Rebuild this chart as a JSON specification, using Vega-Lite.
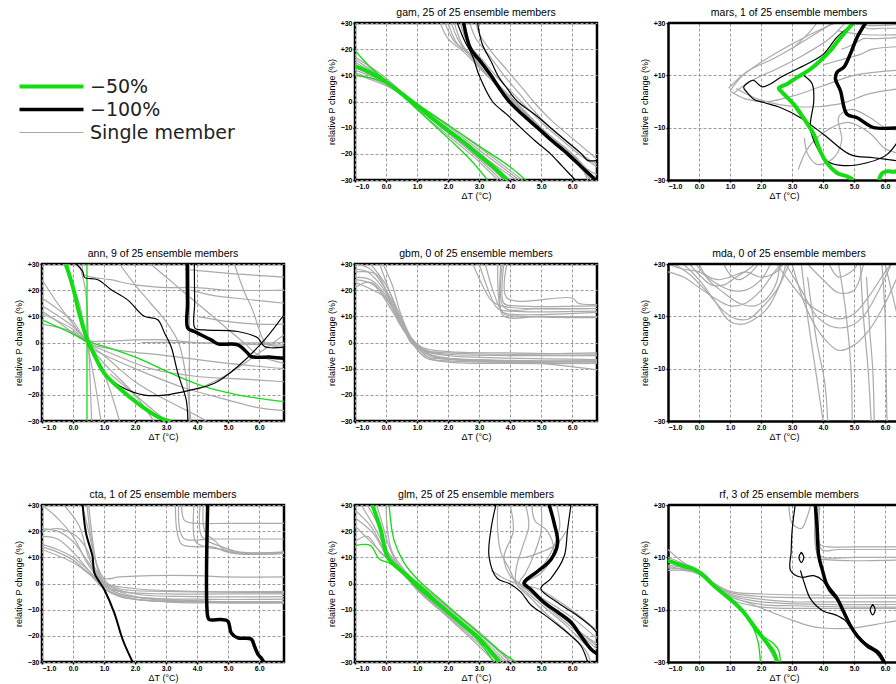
{
"$schema":"https://vega.github.io/schema/vega-lite/v6.json",
"padding":{"left":12,"top":6,"right":0,"bottom":0},
"bounds":"flush",
"columns":3,
"spacing":{"row":84,"column":71},
"config":{
 "view":{"stroke":"#000","strokeWidth":2.5},
 "axis":{"grid":true,"gridColor":"#9a9a9a","gridDash":[3,2],"gridWidth":1,"domain":false,"tickColor":"#000","tickSize":2,"tickWidth":1.5,"labelFont":"Liberation Sans","labelFontSize":7,"labelFontWeight":"bold","labelColor":"#000","labelPadding":1,"labelOverlap":false,"titleFont":"Liberation Sans","titleFontSize":9,"titleFontWeight":"normal","titleColor":"#000","titlePadding":2},
 "axisX":{"labelPadding":0,"titlePadding":2},
 "axisY":{"titlePadding":4},
 "title":{"font":"Liberation Sans","fontSize":10.5,"fontWeight":"normal","color":"#000","offset":1}
},
"concat":[
{"width":242,"height":157,"view":{"stroke":null},"data":{"values":[{}]},"mark":{"type":"point","opacity":0}},
{"width":242,"height":157,"title":"gam, 25 of 25 ensemble members","data":{"name":"gam"},
 "encoding":{"x":{"field":"x","type":"quantitative","scale":{"domain":[-1,6.8],"nice":false,"zero":false},"axis":{"values":[-1,0,1,2,3,4,5,6],"format":".1f","title":"ΔT (°C)","labelOverlap":false}},"y":{"field":"y","type":"quantitative","scale":{"domain":[-30,30],"nice":false,"zero":false},"axis":{"values":[-30,-20,-10,0,10,20,30],"labelExpr":"datum.value>0?'+'+datum.value:datum.label","title":"relative P change (%)","labelOverlap":false}},"detail":{"field":"k"},"order":{"value":null},
 "color":{"field":"s","type":"nominal","scale":{"domain":["G","B","g","Gt","Bt","Bm"],"range":["#11dd11","#000000","#aaaaaa","#11dd11","#000000","#000000"]},"legend":{"orient":"none","legendX":-27,"legendY":54,"title":null,"values":["G","B","g"],"labelExpr":"datum.value=='G'?'−50%':datum.value=='B'?'−100%':'Single member'","symbolType":"M-1,0H11.8","symbolSize":100,"labelFont":"DejaVu Sans","labelFontSize":19,"labelColor":"#222","labelOffset":56,"rowPadding":3}},
 "strokeWidth":{"field":"s","type":"nominal","scale":{"type":"ordinal","domain":["G","B","g","Gt","Bt","Bm"],"range":[4,3.5,1.2,1.3,1.2,2]},"legend":{"orient":"none","legendX":-27,"legendY":54,"title":null,"values":["G","B","g"],"labelExpr":"datum.value=='G'?'−50%':datum.value=='B'?'−100%':'Single member'","symbolType":"M-1,0H11.8","symbolSize":100,"labelFont":"DejaVu Sans","labelFontSize":19,"labelColor":"#222","labelOffset":56,"rowPadding":3}}},
 "layer":[{"transform":[{"filter":"datum.s=='g'"}],"mark":{"type":"line","clip":true,"interpolate":"catmull-rom"}},{"transform":[{"filter":"datum.s!='g'"}],"mark":{"type":"line","clip":true,"interpolate":"catmull-rom"}}]},
{"width":232,"height":157,"title":{"text":"mars, 1 of 25 ensemble members","dx":5},"view":{"stroke":null},
 "layer":[{"data":{"name":"mars"},
 "encoding":{"x":{"field":"x","type":"quantitative","scale":{"domain":[-1,6.48],"nice":false,"zero":false},"axis":{"values":[-1,0,1,2,3,4,5,6],"format":".1f","title":"ΔT (°C)","labelOverlap":false,"domain":true,"domainColor":"#000","domainWidth":2.5}},"y":{"field":"y","type":"quantitative","scale":{"domain":[-30,30],"nice":false,"zero":false},"axis":{"values":[-30,-20,-10,0,10,20,30],"labelExpr":"datum.value>0?'+'+datum.value:datum.label","title":"relative P change (%)","labelOverlap":false,"domain":true,"domainColor":"#000","domainWidth":2.5}},"detail":{"field":"k"},"order":{"value":null},
 "color":{"field":"s","type":"nominal","scale":{"domain":["G","B","g","Gt","Bt","Bm"],"range":["#11dd11","#000000","#aaaaaa","#11dd11","#000000","#000000"]},"legend":{"orient":"none","legendX":-27,"legendY":54,"title":null,"values":["G","B","g"],"labelExpr":"datum.value=='G'?'−50%':datum.value=='B'?'−100%':'Single member'","symbolType":"M-1,0H11.8","symbolSize":100,"labelFont":"DejaVu Sans","labelFontSize":19,"labelColor":"#222","labelOffset":56,"rowPadding":3}},
 "strokeWidth":{"field":"s","type":"nominal","scale":{"type":"ordinal","domain":["G","B","g","Gt","Bt","Bm"],"range":[4,3.5,1.2,1.3,1.2,2]},"legend":{"orient":"none","legendX":-27,"legendY":54,"title":null,"values":["G","B","g"],"labelExpr":"datum.value=='G'?'−50%':datum.value=='B'?'−100%':'Single member'","symbolType":"M-1,0H11.8","symbolSize":100,"labelFont":"DejaVu Sans","labelFontSize":19,"labelColor":"#222","labelOffset":56,"rowPadding":3}}},
 "layer":[{"transform":[{"filter":"datum.s=='g'"}],"mark":{"type":"line","clip":true,"interpolate":"catmull-rom"}},{"transform":[{"filter":"datum.s!='g'"}],"mark":{"type":"line","clip":true,"interpolate":"catmull-rom"}}]},
 {"data":{"values":[{}]},"mark":{"type":"rule","color":"#000","strokeWidth":2.5},"encoding":{"y":{"datum":30}}}]},
{"width":242,"height":157,"title":"ann, 9 of 25 ensemble members","data":{"name":"ann"},
 "encoding":{"x":{"field":"x","type":"quantitative","scale":{"domain":[-1,6.8],"nice":false,"zero":false},"axis":{"values":[-1,0,1,2,3,4,5,6],"format":".1f","title":"ΔT (°C)","labelOverlap":false}},"y":{"field":"y","type":"quantitative","scale":{"domain":[-30,30],"nice":false,"zero":false},"axis":{"values":[-30,-20,-10,0,10,20,30],"labelExpr":"datum.value>0?'+'+datum.value:datum.label","title":"relative P change (%)","labelOverlap":false}},"detail":{"field":"k"},"order":{"value":null},
 "color":{"field":"s","type":"nominal","scale":{"domain":["G","B","g","Gt","Bt","Bm"],"range":["#11dd11","#000000","#aaaaaa","#11dd11","#000000","#000000"]},"legend":{"orient":"none","legendX":-27,"legendY":54,"title":null,"values":["G","B","g"],"labelExpr":"datum.value=='G'?'−50%':datum.value=='B'?'−100%':'Single member'","symbolType":"M-1,0H11.8","symbolSize":100,"labelFont":"DejaVu Sans","labelFontSize":19,"labelColor":"#222","labelOffset":56,"rowPadding":3}},
 "strokeWidth":{"field":"s","type":"nominal","scale":{"type":"ordinal","domain":["G","B","g","Gt","Bt","Bm"],"range":[4,3.5,1.2,1.3,1.2,2]},"legend":{"orient":"none","legendX":-27,"legendY":54,"title":null,"values":["G","B","g"],"labelExpr":"datum.value=='G'?'−50%':datum.value=='B'?'−100%':'Single member'","symbolType":"M-1,0H11.8","symbolSize":100,"labelFont":"DejaVu Sans","labelFontSize":19,"labelColor":"#222","labelOffset":56,"rowPadding":3}}},
 "layer":[{"transform":[{"filter":"datum.s=='g'"}],"mark":{"type":"line","clip":true,"interpolate":"catmull-rom"}},{"transform":[{"filter":"datum.s!='g'"}],"mark":{"type":"line","clip":true,"interpolate":"catmull-rom"}}]},
{"width":242,"height":157,"title":"gbm, 0 of 25 ensemble members","data":{"name":"gbm"},
 "encoding":{"x":{"field":"x","type":"quantitative","scale":{"domain":[-1,6.8],"nice":false,"zero":false},"axis":{"values":[-1,0,1,2,3,4,5,6],"format":".1f","title":"ΔT (°C)","labelOverlap":false}},"y":{"field":"y","type":"quantitative","scale":{"domain":[-30,30],"nice":false,"zero":false},"axis":{"values":[-30,-20,-10,0,10,20,30],"labelExpr":"datum.value>0?'+'+datum.value:datum.label","title":"relative P change (%)","labelOverlap":false}},"detail":{"field":"k"},"order":{"value":null},
 "color":{"field":"s","type":"nominal","scale":{"domain":["G","B","g","Gt","Bt","Bm"],"range":["#11dd11","#000000","#aaaaaa","#11dd11","#000000","#000000"]},"legend":{"orient":"none","legendX":-27,"legendY":54,"title":null,"values":["G","B","g"],"labelExpr":"datum.value=='G'?'−50%':datum.value=='B'?'−100%':'Single member'","symbolType":"M-1,0H11.8","symbolSize":100,"labelFont":"DejaVu Sans","labelFontSize":19,"labelColor":"#222","labelOffset":56,"rowPadding":3}},
 "strokeWidth":{"field":"s","type":"nominal","scale":{"type":"ordinal","domain":["G","B","g","Gt","Bt","Bm"],"range":[4,3.5,1.2,1.3,1.2,2]},"legend":{"orient":"none","legendX":-27,"legendY":54,"title":null,"values":["G","B","g"],"labelExpr":"datum.value=='G'?'−50%':datum.value=='B'?'−100%':'Single member'","symbolType":"M-1,0H11.8","symbolSize":100,"labelFont":"DejaVu Sans","labelFontSize":19,"labelColor":"#222","labelOffset":56,"rowPadding":3}}},
 "layer":[{"transform":[{"filter":"datum.s=='g'"}],"mark":{"type":"line","clip":true,"interpolate":"catmull-rom"}},{"transform":[{"filter":"datum.s!='g'"}],"mark":{"type":"line","clip":true,"interpolate":"catmull-rom"}}]},
{"width":232,"height":157,"title":{"text":"mda, 0 of 25 ensemble members","dx":5},"view":{"stroke":null},
 "layer":[{"data":{"name":"mda"},
 "encoding":{"x":{"field":"x","type":"quantitative","scale":{"domain":[-1,6.48],"nice":false,"zero":false},"axis":{"values":[-1,0,1,2,3,4,5,6],"format":".1f","title":"ΔT (°C)","labelOverlap":false,"domain":true,"domainColor":"#000","domainWidth":2.5}},"y":{"field":"y","type":"quantitative","scale":{"domain":[-30,30],"nice":false,"zero":false},"axis":{"values":[-30,-20,-10,0,10,20,30],"labelExpr":"datum.value>0?'+'+datum.value:datum.label","title":"relative P change (%)","labelOverlap":false,"domain":true,"domainColor":"#000","domainWidth":2.5}},"detail":{"field":"k"},"order":{"value":null},
 "color":{"field":"s","type":"nominal","scale":{"domain":["G","B","g","Gt","Bt","Bm"],"range":["#11dd11","#000000","#aaaaaa","#11dd11","#000000","#000000"]},"legend":{"orient":"none","legendX":-27,"legendY":54,"title":null,"values":["G","B","g"],"labelExpr":"datum.value=='G'?'−50%':datum.value=='B'?'−100%':'Single member'","symbolType":"M-1,0H11.8","symbolSize":100,"labelFont":"DejaVu Sans","labelFontSize":19,"labelColor":"#222","labelOffset":56,"rowPadding":3}},
 "strokeWidth":{"field":"s","type":"nominal","scale":{"type":"ordinal","domain":["G","B","g","Gt","Bt","Bm"],"range":[4,3.5,1.2,1.3,1.2,2]},"legend":{"orient":"none","legendX":-27,"legendY":54,"title":null,"values":["G","B","g"],"labelExpr":"datum.value=='G'?'−50%':datum.value=='B'?'−100%':'Single member'","symbolType":"M-1,0H11.8","symbolSize":100,"labelFont":"DejaVu Sans","labelFontSize":19,"labelColor":"#222","labelOffset":56,"rowPadding":3}}},
 "layer":[{"transform":[{"filter":"datum.s=='g'"}],"mark":{"type":"line","clip":true,"interpolate":"catmull-rom"}},{"transform":[{"filter":"datum.s!='g'"}],"mark":{"type":"line","clip":true,"interpolate":"catmull-rom"}}]},
 {"data":{"values":[{}]},"mark":{"type":"rule","color":"#000","strokeWidth":2.5},"encoding":{"y":{"datum":30}}}]},
{"width":242,"height":157,"title":"cta, 1 of 25 ensemble members","data":{"name":"cta"},
 "encoding":{"x":{"field":"x","type":"quantitative","scale":{"domain":[-1,6.8],"nice":false,"zero":false},"axis":{"values":[-1,0,1,2,3,4,5,6],"format":".1f","title":"ΔT (°C)","labelOverlap":false}},"y":{"field":"y","type":"quantitative","scale":{"domain":[-30,30],"nice":false,"zero":false},"axis":{"values":[-30,-20,-10,0,10,20,30],"labelExpr":"datum.value>0?'+'+datum.value:datum.label","title":"relative P change (%)","labelOverlap":false}},"detail":{"field":"k"},"order":{"value":null},
 "color":{"field":"s","type":"nominal","scale":{"domain":["G","B","g","Gt","Bt","Bm"],"range":["#11dd11","#000000","#aaaaaa","#11dd11","#000000","#000000"]},"legend":{"orient":"none","legendX":-27,"legendY":54,"title":null,"values":["G","B","g"],"labelExpr":"datum.value=='G'?'−50%':datum.value=='B'?'−100%':'Single member'","symbolType":"M-1,0H11.8","symbolSize":100,"labelFont":"DejaVu Sans","labelFontSize":19,"labelColor":"#222","labelOffset":56,"rowPadding":3}},
 "strokeWidth":{"field":"s","type":"nominal","scale":{"type":"ordinal","domain":["G","B","g","Gt","Bt","Bm"],"range":[4,3.5,1.2,1.3,1.2,2]},"legend":{"orient":"none","legendX":-27,"legendY":54,"title":null,"values":["G","B","g"],"labelExpr":"datum.value=='G'?'−50%':datum.value=='B'?'−100%':'Single member'","symbolType":"M-1,0H11.8","symbolSize":100,"labelFont":"DejaVu Sans","labelFontSize":19,"labelColor":"#222","labelOffset":56,"rowPadding":3}}},
 "layer":[{"transform":[{"filter":"datum.s=='g'"}],"mark":{"type":"line","clip":true,"interpolate":"catmull-rom"}},{"transform":[{"filter":"datum.s!='g'"}],"mark":{"type":"line","clip":true,"interpolate":"catmull-rom"}}]},
{"width":242,"height":157,"title":"glm, 25 of 25 ensemble members","data":{"name":"glm"},
 "encoding":{"x":{"field":"x","type":"quantitative","scale":{"domain":[-1,6.8],"nice":false,"zero":false},"axis":{"values":[-1,0,1,2,3,4,5,6],"format":".1f","title":"ΔT (°C)","labelOverlap":false}},"y":{"field":"y","type":"quantitative","scale":{"domain":[-30,30],"nice":false,"zero":false},"axis":{"values":[-30,-20,-10,0,10,20,30],"labelExpr":"datum.value>0?'+'+datum.value:datum.label","title":"relative P change (%)","labelOverlap":false}},"detail":{"field":"k"},"order":{"value":null},
 "color":{"field":"s","type":"nominal","scale":{"domain":["G","B","g","Gt","Bt","Bm"],"range":["#11dd11","#000000","#aaaaaa","#11dd11","#000000","#000000"]},"legend":{"orient":"none","legendX":-27,"legendY":54,"title":null,"values":["G","B","g"],"labelExpr":"datum.value=='G'?'−50%':datum.value=='B'?'−100%':'Single member'","symbolType":"M-1,0H11.8","symbolSize":100,"labelFont":"DejaVu Sans","labelFontSize":19,"labelColor":"#222","labelOffset":56,"rowPadding":3}},
 "strokeWidth":{"field":"s","type":"nominal","scale":{"type":"ordinal","domain":["G","B","g","Gt","Bt","Bm"],"range":[4,3.5,1.2,1.3,1.2,2]},"legend":{"orient":"none","legendX":-27,"legendY":54,"title":null,"values":["G","B","g"],"labelExpr":"datum.value=='G'?'−50%':datum.value=='B'?'−100%':'Single member'","symbolType":"M-1,0H11.8","symbolSize":100,"labelFont":"DejaVu Sans","labelFontSize":19,"labelColor":"#222","labelOffset":56,"rowPadding":3}}},
 "layer":[{"transform":[{"filter":"datum.s=='g'"}],"mark":{"type":"line","clip":true,"interpolate":"catmull-rom"}},{"transform":[{"filter":"datum.s!='g'"}],"mark":{"type":"line","clip":true,"interpolate":"catmull-rom"}}]},
{"width":232,"height":157,"title":{"text":"rf, 3 of 25 ensemble members","dx":5},"view":{"stroke":null},
 "layer":[{"data":{"name":"rf"},
 "encoding":{"x":{"field":"x","type":"quantitative","scale":{"domain":[-1,6.48],"nice":false,"zero":false},"axis":{"values":[-1,0,1,2,3,4,5,6],"format":".1f","title":"ΔT (°C)","labelOverlap":false,"domain":true,"domainColor":"#000","domainWidth":2.5}},"y":{"field":"y","type":"quantitative","scale":{"domain":[-30,30],"nice":false,"zero":false},"axis":{"values":[-30,-20,-10,0,10,20,30],"labelExpr":"datum.value>0?'+'+datum.value:datum.label","title":"relative P change (%)","labelOverlap":false,"domain":true,"domainColor":"#000","domainWidth":2.5}},"detail":{"field":"k"},"order":{"value":null},
 "color":{"field":"s","type":"nominal","scale":{"domain":["G","B","g","Gt","Bt","Bm"],"range":["#11dd11","#000000","#aaaaaa","#11dd11","#000000","#000000"]},"legend":{"orient":"none","legendX":-27,"legendY":54,"title":null,"values":["G","B","g"],"labelExpr":"datum.value=='G'?'−50%':datum.value=='B'?'−100%':'Single member'","symbolType":"M-1,0H11.8","symbolSize":100,"labelFont":"DejaVu Sans","labelFontSize":19,"labelColor":"#222","labelOffset":56,"rowPadding":3}},
 "strokeWidth":{"field":"s","type":"nominal","scale":{"type":"ordinal","domain":["G","B","g","Gt","Bt","Bm"],"range":[4,3.5,1.2,1.3,1.2,2]},"legend":{"orient":"none","legendX":-27,"legendY":54,"title":null,"values":["G","B","g"],"labelExpr":"datum.value=='G'?'−50%':datum.value=='B'?'−100%':'Single member'","symbolType":"M-1,0H11.8","symbolSize":100,"labelFont":"DejaVu Sans","labelFontSize":19,"labelColor":"#222","labelOffset":56,"rowPadding":3}}},
 "layer":[{"transform":[{"filter":"datum.s=='g'"}],"mark":{"type":"line","clip":true,"interpolate":"catmull-rom"}},{"transform":[{"filter":"datum.s!='g'"}],"mark":{"type":"line","clip":true,"interpolate":"catmull-rom"}}]},
 {"data":{"values":[{}]},"mark":{"type":"rule","color":"#000","strokeWidth":2.5},"encoding":{"y":{"datum":30}}}]}
],
"datasets":{
"gam":[
{"s":"g","k":"g1","x":-1,"y":15},{"s":"g","k":"g1","x":0,"y":8},{"s":"g","k":"g1","x":1,"y":-2},{"s":"g","k":"g1","x":2,"y":-12},{"s":"g","k":"g1","x":3,"y":-21},{"s":"g","k":"g1","x":3.8,"y":-30},
{"s":"g","k":"g2","x":-1,"y":14},{"s":"g","k":"g2","x":0,"y":7.5},{"s":"g","k":"g2","x":1,"y":-1},{"s":"g","k":"g2","x":2,"y":-10.5},{"s":"g","k":"g2","x":3,"y":-19.5},{"s":"g","k":"g2","x":4,"y":-30},
{"s":"g","k":"g3","x":-1,"y":12},{"s":"g","k":"g3","x":0,"y":7},{"s":"g","k":"g3","x":1,"y":-1.5},{"s":"g","k":"g3","x":2,"y":-11},{"s":"g","k":"g3","x":3,"y":-20},{"s":"g","k":"g3","x":4.2,"y":-30},
{"s":"g","k":"g4","x":-1,"y":16},{"s":"g","k":"g4","x":0,"y":8},{"s":"g","k":"g4","x":1,"y":-3},{"s":"g","k":"g4","x":2,"y":-13},{"s":"g","k":"g4","x":3,"y":-23},{"s":"g","k":"g4","x":3.6,"y":-30},
{"s":"g","k":"g5","x":-1,"y":11},{"s":"g","k":"g5","x":0,"y":6.5},{"s":"g","k":"g5","x":1,"y":-1},{"s":"g","k":"g5","x":2,"y":-9.5},{"s":"g","k":"g5","x":3,"y":-18.5},{"s":"g","k":"g5","x":4.3,"y":-30},
{"s":"g","k":"g6","x":-1,"y":13},{"s":"g","k":"g6","x":0,"y":7},{"s":"g","k":"g6","x":1,"y":-2.5},{"s":"g","k":"g6","x":2,"y":-12},{"s":"g","k":"g6","x":3,"y":-22},{"s":"g","k":"g6","x":3.7,"y":-30},
{"s":"g","k":"g7","x":-1,"y":17},{"s":"g","k":"g7","x":0,"y":9},{"s":"g","k":"g7","x":1,"y":-2},{"s":"g","k":"g7","x":2,"y":-11.5},{"s":"g","k":"g7","x":3,"y":-21.5},{"s":"g","k":"g7","x":3.9,"y":-30},
{"s":"g","k":"g8","x":-1,"y":10.5},{"s":"g","k":"g8","x":0,"y":6},{"s":"g","k":"g8","x":1,"y":-1},{"s":"g","k":"g8","x":2,"y":-9},{"s":"g","k":"g8","x":3,"y":-17.5},{"s":"g","k":"g8","x":4.4,"y":-30},
{"s":"g","k":"h1","x":1.75,"y":30},{"s":"g","k":"h1","x":2,"y":24},{"s":"g","k":"h1","x":2.5,"y":19},{"s":"g","k":"h1","x":3,"y":13},{"s":"g","k":"h1","x":3.5,"y":7},{"s":"g","k":"h1","x":4,"y":1},{"s":"g","k":"h1","x":4.5,"y":-5},{"s":"g","k":"h1","x":5,"y":-11},{"s":"g","k":"h1","x":5.5,"y":-16},{"s":"g","k":"h1","x":6,"y":-21},{"s":"g","k":"h1","x":6.5,"y":-27},{"s":"g","k":"h1","x":6.7,"y":-30},
{"s":"g","k":"h2","x":2,"y":30},{"s":"g","k":"h2","x":2.3,"y":22},{"s":"g","k":"h2","x":2.8,"y":17},{"s":"g","k":"h2","x":3.2,"y":11},{"s":"g","k":"h2","x":3.7,"y":5},{"s":"g","k":"h2","x":4.2,"y":-1},{"s":"g","k":"h2","x":4.7,"y":-7},{"s":"g","k":"h2","x":5.2,"y":-13},{"s":"g","k":"h2","x":5.8,"y":-18},{"s":"g","k":"h2","x":6.3,"y":-24},{"s":"g","k":"h2","x":6.6,"y":-30},
{"s":"g","k":"h3","x":2.2,"y":30},{"s":"g","k":"h3","x":2.5,"y":21},{"s":"g","k":"h3","x":3,"y":15},{"s":"g","k":"h3","x":3.5,"y":8},{"s":"g","k":"h3","x":4,"y":2},{"s":"g","k":"h3","x":4.5,"y":-4},{"s":"g","k":"h3","x":5,"y":-10},{"s":"g","k":"h3","x":5.6,"y":-16},{"s":"g","k":"h3","x":6.1,"y":-21},{"s":"g","k":"h3","x":6.5,"y":-26},{"s":"g","k":"h3","x":6.8,"y":-28},
{"s":"g","k":"h4","x":2.4,"y":30},{"s":"g","k":"h4","x":2.6,"y":23},{"s":"g","k":"h4","x":3.1,"y":16},{"s":"g","k":"h4","x":3.6,"y":9},{"s":"g","k":"h4","x":4.1,"y":3},{"s":"g","k":"h4","x":4.6,"y":-3},{"s":"g","k":"h4","x":5.1,"y":-9},{"s":"g","k":"h4","x":5.7,"y":-15},{"s":"g","k":"h4","x":6.2,"y":-20},{"s":"g","k":"h4","x":6.8,"y":-25},
{"s":"g","k":"h5","x":2.7,"y":30},{"s":"g","k":"h5","x":2.9,"y":24},{"s":"g","k":"h5","x":3.3,"y":18},{"s":"g","k":"h5","x":3.8,"y":10},{"s":"g","k":"h5","x":4.3,"y":3},{"s":"g","k":"h5","x":4.8,"y":-4},{"s":"g","k":"h5","x":5.3,"y":-10},{"s":"g","k":"h5","x":5.9,"y":-16},{"s":"g","k":"h5","x":6.4,"y":-21},{"s":"g","k":"h5","x":6.8,"y":-24},
{"s":"g","k":"h6","x":2.9,"y":30},{"s":"g","k":"h6","x":3,"y":26},{"s":"g","k":"h6","x":3.4,"y":19},{"s":"g","k":"h6","x":3.9,"y":12},{"s":"g","k":"h6","x":4.4,"y":5},{"s":"g","k":"h6","x":4.9,"y":-2},{"s":"g","k":"h6","x":5.4,"y":-8},{"s":"g","k":"h6","x":6,"y":-14},{"s":"g","k":"h6","x":6.5,"y":-19},{"s":"g","k":"h6","x":6.8,"y":-22},
{"s":"g","k":"h7","x":2.1,"y":30},{"s":"g","k":"h7","x":2.4,"y":22},{"s":"g","k":"h7","x":2.9,"y":15},{"s":"g","k":"h7","x":3.3,"y":10},{"s":"g","k":"h7","x":3.8,"y":3},{"s":"g","k":"h7","x":4.4,"y":-3},{"s":"g","k":"h7","x":4.9,"y":-9},{"s":"g","k":"h7","x":5.4,"y":-15},{"s":"g","k":"h7","x":6,"y":-21},{"s":"g","k":"h7","x":6.4,"y":-27},{"s":"g","k":"h7","x":6.6,"y":-30},
{"s":"g","k":"h8","x":1.9,"y":30},{"s":"g","k":"h8","x":2.2,"y":23},{"s":"g","k":"h8","x":2.7,"y":18},{"s":"g","k":"h8","x":3.1,"y":12},{"s":"g","k":"h8","x":3.6,"y":6},{"s":"g","k":"h8","x":4.1,"y":0},{"s":"g","k":"h8","x":4.6,"y":-6},{"s":"g","k":"h8","x":5.1,"y":-12},{"s":"g","k":"h8","x":5.7,"y":-17},{"s":"g","k":"h8","x":6.2,"y":-23},{"s":"g","k":"h8","x":6.5,"y":-30},
{"s":"Gt","k":"t1","x":-1,"y":19.5},{"s":"Gt","k":"t1","x":-0.5,"y":13},{"s":"Gt","k":"t1","x":0,"y":8},{"s":"Gt","k":"t1","x":0.5,"y":2.5},{"s":"Gt","k":"t1","x":1,"y":-3},{"s":"Gt","k":"t1","x":2,"y":-14},{"s":"Gt","k":"t1","x":2.7,"y":-22},{"s":"Gt","k":"t1","x":3.27,"y":-30},
{"s":"Gt","k":"t2","x":-1,"y":10},{"s":"Gt","k":"t2","x":-0.5,"y":9},{"s":"Gt","k":"t2","x":0,"y":7},{"s":"Gt","k":"t2","x":0.5,"y":3.5},{"s":"Gt","k":"t2","x":1,"y":-1},{"s":"Gt","k":"t2","x":2,"y":-9},{"s":"Gt","k":"t2","x":3,"y":-17},{"s":"Gt","k":"t2","x":4,"y":-25},{"s":"Gt","k":"t2","x":4.5,"y":-30},
{"s":"Bt","k":"b1","x":2.3,"y":30},{"s":"Bt","k":"b1","x":2.5,"y":24},{"s":"Bt","k":"b1","x":2.8,"y":17},{"s":"Bt","k":"b1","x":3,"y":10},{"s":"Bt","k":"b1","x":3.43,"y":0},{"s":"Bt","k":"b1","x":3.9,"y":-5},{"s":"Bt","k":"b1","x":4.34,"y":-10},{"s":"Bt","k":"b1","x":4.8,"y":-15},{"s":"Bt","k":"b1","x":5.3,"y":-20},{"s":"Bt","k":"b1","x":5.7,"y":-25},{"s":"Bt","k":"b1","x":6.1,"y":-30},
{"s":"Bt","k":"b2","x":2.95,"y":30},{"s":"Bt","k":"b2","x":3.1,"y":22},{"s":"Bt","k":"b2","x":3.4,"y":15},{"s":"Bt","k":"b2","x":3.6,"y":10},{"s":"Bt","k":"b2","x":3.9,"y":5},{"s":"Bt","k":"b2","x":4.24,"y":0},{"s":"Bt","k":"b2","x":4.8,"y":-5},{"s":"Bt","k":"b2","x":5.3,"y":-10},{"s":"Bt","k":"b2","x":5.8,"y":-15},{"s":"Bt","k":"b2","x":6.3,"y":-20},{"s":"Bt","k":"b2","x":6.5,"y":-22.5},{"s":"Bt","k":"b2","x":6.8,"y":-22.5},
{"s":"G","k":"G","x":-1,"y":13.5},{"s":"G","k":"G","x":-0.5,"y":11},{"s":"G","k":"G","x":0,"y":7.5},{"s":"G","k":"G","x":0.5,"y":3},{"s":"G","k":"G","x":1,"y":-1.5},{"s":"G","k":"G","x":1.5,"y":-6.5},{"s":"G","k":"G","x":2,"y":-11},{"s":"G","k":"G","x":2.5,"y":-15.5},{"s":"G","k":"G","x":3,"y":-20.5},{"s":"G","k":"G","x":3.5,"y":-25.5},{"s":"G","k":"G","x":3.9,"y":-30},
{"s":"B","k":"B","x":2.5,"y":30},{"s":"B","k":"B","x":2.73,"y":20},{"s":"B","k":"B","x":3,"y":16},{"s":"B","k":"B","x":3.38,"y":10},{"s":"B","k":"B","x":3.6,"y":6},{"s":"B","k":"B","x":3.97,"y":0},{"s":"B","k":"B","x":4.4,"y":-5},{"s":"B","k":"B","x":4.88,"y":-10},{"s":"B","k":"B","x":5.35,"y":-15},{"s":"B","k":"B","x":5.85,"y":-20},{"s":"B","k":"B","x":6.3,"y":-25},{"s":"B","k":"B","x":6.76,"y":-30}
],
"mars":[
{"s":"g","k":"m1","x":0.95,"y":5},{"s":"g","k":"m1","x":1.3,"y":9},{"s":"g","k":"m1","x":2,"y":15},{"s":"g","k":"m1","x":3,"y":22},{"s":"g","k":"m1","x":4,"y":28},{"s":"g","k":"m1","x":4.4,"y":30},
{"s":"g","k":"m2","x":1,"y":4},{"s":"g","k":"m2","x":1.5,"y":11},{"s":"g","k":"m2","x":2.5,"y":17},{"s":"g","k":"m2","x":3.5,"y":24},{"s":"g","k":"m2","x":4.3,"y":30},
{"s":"g","k":"m3","x":1.1,"y":3},{"s":"g","k":"m3","x":1.7,"y":8},{"s":"g","k":"m3","x":2.6,"y":13},{"s":"g","k":"m3","x":3.4,"y":18},{"s":"g","k":"m3","x":4.2,"y":24},{"s":"g","k":"m3","x":4.7,"y":30},
{"s":"g","k":"m4","x":1,"y":4},{"s":"g","k":"m4","x":1.5,"y":1},{"s":"g","k":"m4","x":2.2,"y":0},{"s":"g","k":"m4","x":3,"y":2},{"s":"g","k":"m4","x":4,"y":6},{"s":"g","k":"m4","x":5,"y":10},{"s":"g","k":"m4","x":6.5,"y":12},
{"s":"g","k":"m5","x":1.2,"y":5},{"s":"g","k":"m5","x":2,"y":0.5},{"s":"g","k":"m5","x":3.2,"y":-2},{"s":"g","k":"m5","x":4.5,"y":-1},{"s":"g","k":"m5","x":5.5,"y":3},{"s":"g","k":"m5","x":6.5,"y":5},
{"s":"g","k":"m6","x":3.4,"y":-14},{"s":"g","k":"m6","x":3.5,"y":-20},{"s":"g","k":"m6","x":3.8,"y":-24},{"s":"g","k":"m6","x":4.3,"y":-22},{"s":"g","k":"m6","x":4.6,"y":-15},{"s":"g","k":"m6","x":4.5,"y":-6},{"s":"g","k":"m6","x":4.9,"y":-3},{"s":"g","k":"m6","x":5.5,"y":-6},{"s":"g","k":"m6","x":6,"y":-10},{"s":"g","k":"m6","x":6.5,"y":-11},
{"s":"g","k":"m7","x":4.5,"y":27},{"s":"g","k":"m7","x":5,"y":26},{"s":"g","k":"m7","x":5.4,"y":25.5},{"s":"g","k":"m7","x":6.5,"y":25.5},
{"s":"g","k":"m8","x":4.6,"y":20},{"s":"g","k":"m8","x":5,"y":22},{"s":"g","k":"m8","x":5.3,"y":24},{"s":"g","k":"m8","x":5.6,"y":24},{"s":"g","k":"m8","x":6.5,"y":24.5},
{"s":"g","k":"m9","x":5.2,"y":30},{"s":"g","k":"m9","x":5.4,"y":28},{"s":"g","k":"m9","x":5.9,"y":28},{"s":"g","k":"m9","x":6.5,"y":28},
{"s":"g","k":"m10","x":4,"y":14},{"s":"g","k":"m10","x":4.6,"y":16},{"s":"g","k":"m10","x":5.2,"y":18},{"s":"g","k":"m10","x":5.6,"y":20},{"s":"g","k":"m10","x":6.5,"y":21},
{"s":"g","k":"m11","x":3,"y":20},{"s":"g","k":"m11","x":3.6,"y":27},{"s":"g","k":"m11","x":3.8,"y":30},
{"s":"g","k":"m12","x":3.2,"y":-26},{"s":"g","k":"m12","x":3.5,"y":-18},{"s":"g","k":"m12","x":4,"y":-12},{"s":"g","k":"m12","x":4.8,"y":-8},{"s":"g","k":"m12","x":5.5,"y":-12},{"s":"g","k":"m12","x":6,"y":-18},{"s":"g","k":"m12","x":6.5,"y":-20},
{"s":"g","k":"m13","x":4.8,"y":30},{"s":"g","k":"m13","x":5.5,"y":29},{"s":"g","k":"m13","x":6.5,"y":29.5},
{"s":"Bt","k":"b1","x":4.88,"y":29},{"s":"Bt","k":"b1","x":4.45,"y":24.6},{"s":"Bt","k":"b1","x":4.02,"y":18.2},{"s":"Bt","k":"b1","x":3.59,"y":15},{"s":"Bt","k":"b1","x":2.95,"y":11.2},{"s":"Bt","k":"b1","x":2.62,"y":9.2},{"s":"Bt","k":"b1","x":2.3,"y":6.7},{"s":"Bt","k":"b1","x":2.03,"y":5.6},{"s":"Bt","k":"b1","x":1.76,"y":8.1},{"s":"Bt","k":"b1","x":1.6,"y":7.4},{"s":"Bt","k":"b1","x":1.44,"y":5.4},{"s":"Bt","k":"b1","x":1.55,"y":3.5},{"s":"Bt","k":"b1","x":1.76,"y":0.9},{"s":"Bt","k":"b1","x":2.09,"y":-0.4},{"s":"Bt","k":"b1","x":2.62,"y":-2.3},{"s":"Bt","k":"b1","x":3.27,"y":-6.2},{"s":"Bt","k":"b1","x":4.02,"y":-12.6},{"s":"Bt","k":"b1","x":4.88,"y":-20.3},{"s":"Bt","k":"b1","x":5.63,"y":-21.5},{"s":"Bt","k":"b1","x":6.5,"y":-22.8},
{"s":"Bt","k":"b2","x":3.38,"y":9.9},{"s":"Bt","k":"b2","x":3.65,"y":6.7},{"s":"Bt","k":"b2","x":3.7,"y":0.3},{"s":"Bt","k":"b2","x":3.59,"y":-10},{"s":"Bt","k":"b2","x":3.81,"y":-17.7},{"s":"Bt","k":"b2","x":4.13,"y":-22.8},{"s":"Bt","k":"b2","x":4.67,"y":-24.5},{"s":"Bt","k":"b2","x":5.42,"y":-23.4},{"s":"Bt","k":"b2","x":6.06,"y":-20.3},{"s":"Bt","k":"b2","x":6.5,"y":-13.5},
{"s":"G","k":"G","x":4.97,"y":30},{"s":"G","k":"G","x":4.67,"y":25.9},{"s":"G","k":"G","x":4.45,"y":22.7},{"s":"G","k":"G","x":4.24,"y":19.5},{"s":"G","k":"G","x":3.91,"y":15.6},{"s":"G","k":"G","x":3.59,"y":12.4},{"s":"G","k":"G","x":3.16,"y":9.2},{"s":"G","k":"G","x":2.84,"y":6.7},{"s":"G","k":"G","x":2.57,"y":5.1},{"s":"G","k":"G","x":2.68,"y":3.5},{"s":"G","k":"G","x":3.05,"y":-1},{"s":"G","k":"G","x":3.43,"y":-7.4},{"s":"G","k":"G","x":3.7,"y":-12.6},{"s":"G","k":"G","x":3.91,"y":-19},{"s":"G","k":"G","x":4.08,"y":-22.8},{"s":"G","k":"G","x":4.45,"y":-27.3},{"s":"G","k":"G","x":4.77,"y":-28.6},{"s":"G","k":"G","x":4.99,"y":-30},
{"s":"G","k":"G2","x":5.8,"y":-30},{"s":"G","k":"G2","x":5.9,"y":-27.5},{"s":"G","k":"G2","x":6.05,"y":-26.7},{"s":"G","k":"G2","x":6.35,"y":-26.7},{"s":"G","k":"G2","x":6.5,"y":-24},
{"s":"B","k":"B","x":5.37,"y":30},{"s":"B","k":"B","x":5.1,"y":24.6},{"s":"B","k":"B","x":4.88,"y":18.2},{"s":"B","k":"B","x":4.67,"y":13.1},{"s":"B","k":"B","x":4.45,"y":11.2},{"s":"B","k":"B","x":4.4,"y":8.6},{"s":"B","k":"B","x":4.56,"y":4.1},{"s":"B","k":"B","x":4.77,"y":-4.9},{"s":"B","k":"B","x":5.1,"y":-6.2},{"s":"B","k":"B","x":5.42,"y":-8.7},{"s":"B","k":"B","x":5.63,"y":-10},{"s":"B","k":"B","x":6.5,"y":-10}
],
"ann":[
{"s":"g","k":"a1","x":-1,"y":24},{"s":"g","k":"a1","x":-0.5,"y":15},{"s":"g","k":"a1","x":0,"y":7},{"s":"g","k":"a1","x":0.45,"y":0},{"s":"g","k":"a1","x":1,"y":-8},{"s":"g","k":"a1","x":2,"y":-20},{"s":"g","k":"a1","x":2.6,"y":-30},
{"s":"g","k":"a2","x":-1,"y":12},{"s":"g","k":"a2","x":-0.5,"y":8},{"s":"g","k":"a2","x":0.45,"y":0},{"s":"g","k":"a2","x":1.2,"y":-4},{"s":"g","k":"a2","x":2.5,"y":-10},{"s":"g","k":"a2","x":4,"y":-13},{"s":"g","k":"a2","x":5.5,"y":-14},{"s":"g","k":"a2","x":6.8,"y":-15},
{"s":"g","k":"a3","x":-1,"y":11},{"s":"g","k":"a3","x":0,"y":5},{"s":"g","k":"a3","x":0.45,"y":0},{"s":"g","k":"a3","x":1.5,"y":-3},{"s":"g","k":"a3","x":3,"y":-5},{"s":"g","k":"a3","x":5,"y":-8},{"s":"g","k":"a3","x":6.8,"y":-10},
{"s":"g","k":"a4","x":-1,"y":17},{"s":"g","k":"a4","x":0,"y":8},{"s":"g","k":"a4","x":0.45,"y":1},{"s":"g","k":"a4","x":1,"y":0.5},{"s":"g","k":"a4","x":2,"y":1},{"s":"g","k":"a4","x":3,"y":1},{"s":"g","k":"a4","x":4,"y":0},{"s":"g","k":"a4","x":6.8,"y":0},
{"s":"g","k":"a5","x":-1,"y":14},{"s":"g","k":"a5","x":0,"y":6},{"s":"g","k":"a5","x":0.45,"y":0},{"s":"g","k":"a5","x":1,"y":-12},{"s":"g","k":"a5","x":1.5,"y":-30},
{"s":"g","k":"a6","x":-0.3,"y":30},{"s":"g","k":"a6","x":0.2,"y":15},{"s":"g","k":"a6","x":0.45,"y":0},{"s":"g","k":"a6","x":0.7,"y":-15},{"s":"g","k":"a6","x":0.9,"y":-30},
{"s":"g","k":"a7","x":0.2,"y":30},{"s":"g","k":"a7","x":0.4,"y":20},{"s":"g","k":"a7","x":0.5,"y":0},{"s":"g","k":"a7","x":0.6,"y":-30},
{"s":"g","k":"a8","x":1.5,"y":30},{"s":"g","k":"a8","x":2,"y":22},{"s":"g","k":"a8","x":2.5,"y":15},{"s":"g","k":"a8","x":3,"y":8},{"s":"g","k":"a8","x":3.4,"y":0},{"s":"g","k":"a8","x":3.6,"y":-10},{"s":"g","k":"a8","x":3.8,"y":-30},
{"s":"g","k":"a9","x":2.5,"y":30},{"s":"g","k":"a9","x":3,"y":25},{"s":"g","k":"a9","x":3.5,"y":20},{"s":"g","k":"a9","x":4,"y":15},{"s":"g","k":"a9","x":4.5,"y":10},{"s":"g","k":"a9","x":5,"y":5},{"s":"g","k":"a9","x":5.5,"y":0},{"s":"g","k":"a9","x":6,"y":-5},{"s":"g","k":"a9","x":6.8,"y":-8},
{"s":"g","k":"a10","x":3.75,"y":30},{"s":"g","k":"a10","x":3.75,"y":-30},
{"s":"g","k":"a11","x":3.6,"y":28},{"s":"g","k":"a11","x":4.5,"y":27},{"s":"g","k":"a11","x":5.5,"y":26},{"s":"g","k":"a11","x":6.8,"y":25},
{"s":"g","k":"a12","x":3.8,"y":20},{"s":"g","k":"a12","x":4.5,"y":18},{"s":"g","k":"a12","x":5.2,"y":17},{"s":"g","k":"a12","x":6,"y":16},{"s":"g","k":"a12","x":6.8,"y":15},
{"s":"g","k":"a13","x":4,"y":10},{"s":"g","k":"a13","x":5,"y":8},{"s":"g","k":"a13","x":6,"y":7},{"s":"g","k":"a13","x":6.8,"y":7},
{"s":"g","k":"a14","x":0.5,"y":-2},{"s":"g","k":"a14","x":2,"y":-10},{"s":"g","k":"a14","x":3.5,"y":-17},{"s":"g","k":"a14","x":5,"y":-22},{"s":"g","k":"a14","x":6,"y":-25},{"s":"g","k":"a14","x":6.8,"y":-26},
{"s":"g","k":"a15","x":1.2,"y":-12},{"s":"g","k":"a15","x":2,"y":-20},{"s":"g","k":"a15","x":2.5,"y":-25},{"s":"g","k":"a15","x":3,"y":-30},
{"s":"g","k":"a16","x":5.2,"y":30},{"s":"g","k":"a16","x":5.5,"y":20},{"s":"g","k":"a16","x":5.8,"y":12},{"s":"g","k":"a16","x":6,"y":5},{"s":"g","k":"a16","x":6.2,"y":0},{"s":"g","k":"a16","x":6.8,"y":-2},
{"s":"g","k":"a17","x":-1,"y":7},{"s":"g","k":"a17","x":0,"y":4},{"s":"g","k":"a17","x":0.45,"y":0},{"s":"g","k":"a17","x":1,"y":-5},{"s":"g","k":"a17","x":2,"y":-15},{"s":"g","k":"a17","x":3,"y":-22},{"s":"g","k":"a17","x":4,"y":-28},{"s":"g","k":"a17","x":4.3,"y":-30},
{"s":"g","k":"a18","x":4,"y":-18},{"s":"g","k":"a18","x":5,"y":-12},{"s":"g","k":"a18","x":6,"y":-4},{"s":"g","k":"a18","x":6.8,"y":3},
{"s":"g","k":"a19","x":0.3,"y":30},{"s":"g","k":"a19","x":0.35,"y":26},{"s":"g","k":"a19","x":0.6,"y":25},{"s":"g","k":"a19","x":1.2,"y":24},{"s":"g","k":"a19","x":2,"y":22},{"s":"g","k":"a19","x":3,"y":21},{"s":"g","k":"a19","x":4,"y":21},{"s":"g","k":"a19","x":5,"y":20},{"s":"g","k":"a19","x":6.8,"y":20},
{"s":"g","k":"a20","x":2.2,"y":0},{"s":"g","k":"a20","x":3.5,"y":0},{"s":"g","k":"a20","x":5,"y":-0.5},{"s":"g","k":"a20","x":6.8,"y":-1},
{"s":"Gt","k":"v","x":0.45,"y":30},{"s":"Gt","k":"v","x":0.45,"y":-30},
{"s":"Gt","k":"t2","x":-1,"y":8.7},{"s":"Gt","k":"t2","x":-0.06,"y":3.6},{"s":"Gt","k":"t2","x":0.47,"y":0.4},{"s":"Gt","k":"t2","x":1.01,"y":-1.5},{"s":"Gt","k":"t2","x":2.09,"y":-6},{"s":"Gt","k":"t2","x":3.16,"y":-11.8},{"s":"Gt","k":"t2","x":4.24,"y":-16.9},{"s":"Gt","k":"t2","x":5.31,"y":-20},{"s":"Gt","k":"t2","x":6.8,"y":-22.6},
{"s":"Bt","k":"b1","x":3.91,"y":30},{"s":"Bt","k":"b1","x":3.92,"y":15},{"s":"Bt","k":"b1","x":3.93,"y":5.5},{"s":"Bt","k":"b1","x":4.24,"y":4.8},{"s":"Bt","k":"b1","x":5.31,"y":4.2},{"s":"Bt","k":"b1","x":5.96,"y":1.7},{"s":"Bt","k":"b1","x":6.17,"y":-1.5},{"s":"Bt","k":"b1","x":6.8,"y":-1.8},
{"s":"Bt","k":"b2","x":0.1,"y":30},{"s":"Bt","k":"b2","x":0.31,"y":27.2},{"s":"Bt","k":"b2","x":0.37,"y":24.9},{"s":"Bt","k":"b2","x":0.8,"y":24},{"s":"Bt","k":"b2","x":1.23,"y":20.2},{"s":"Bt","k":"b2","x":1.76,"y":16.3},{"s":"Bt","k":"b2","x":2.3,"y":10},{"s":"Bt","k":"b2","x":2.73,"y":8.7},{"s":"Bt","k":"b2","x":2.95,"y":3.6},{"s":"Bt","k":"b2","x":3.16,"y":-1.5},{"s":"Bt","k":"b2","x":3.38,"y":-11.8},{"s":"Bt","k":"b2","x":3.65,"y":-22},{"s":"Bt","k":"b2","x":3.7,"y":-30},
{"s":"Bt","k":"b3","x":0.47,"y":-0.3},{"s":"Bt","k":"b3","x":1.01,"y":-11.8},{"s":"Bt","k":"b3","x":1.55,"y":-16.9},{"s":"Bt","k":"b3","x":2.3,"y":-20.1},{"s":"Bt","k":"b3","x":2.95,"y":-20.1},{"s":"Bt","k":"b3","x":3.81,"y":-18.1},{"s":"Bt","k":"b3","x":4.56,"y":-15.6},{"s":"Bt","k":"b3","x":5.31,"y":-9.2},{"s":"Bt","k":"b3","x":6.17,"y":1},{"s":"Bt","k":"b3","x":6.8,"y":10.6},
{"s":"G","k":"G","x":-0.23,"y":30},{"s":"G","k":"G","x":-0.01,"y":21.4},{"s":"G","k":"G","x":0.2,"y":11.2},{"s":"G","k":"G","x":0.42,"y":2.3},{"s":"G","k":"G","x":0.56,"y":-1.5},{"s":"G","k":"G","x":1.01,"y":-11.8},{"s":"G","k":"G","x":1.55,"y":-18.1},{"s":"G","k":"G","x":2.09,"y":-23.3},{"s":"G","k":"G","x":2.73,"y":-28.4},{"s":"G","k":"G","x":3.16,"y":-30.3},
{"s":"B","k":"B","x":3.68,"y":30},{"s":"B","k":"B","x":3.69,"y":15},{"s":"B","k":"B","x":3.7,"y":5.5},{"s":"B","k":"B","x":3.91,"y":4.2},{"s":"B","k":"B","x":4.45,"y":1},{"s":"B","k":"B","x":4.67,"y":-0.5},{"s":"B","k":"B","x":5.31,"y":-0.9},{"s":"B","k":"B","x":5.63,"y":-4.1},{"s":"B","k":"B","x":5.74,"y":-5.4},{"s":"B","k":"B","x":6.39,"y":-5.6},{"s":"B","k":"B","x":6.8,"y":-6}
],
"gbm":[
{"s":"g","k":"c1","x":-1,"y":30},{"s":"g","k":"c1","x":-0.5,"y":28},{"s":"g","k":"c1","x":0,"y":20},{"s":"g","k":"c1","x":0.5,"y":8},{"s":"g","k":"c1","x":0.8,"y":0},{"s":"g","k":"c1","x":1.2,"y":-3},{"s":"g","k":"c1","x":2,"y":-4.5},{"s":"g","k":"c1","x":4,"y":-5},{"s":"g","k":"c1","x":6.8,"y":-5},
{"s":"g","k":"c2","x":-1,"y":25},{"s":"g","k":"c2","x":-0.5,"y":24},{"s":"g","k":"c2","x":0,"y":18},{"s":"g","k":"c2","x":0.5,"y":7},{"s":"g","k":"c2","x":0.9,"y":0},{"s":"g","k":"c2","x":1.3,"y":-3.5},{"s":"g","k":"c2","x":2,"y":-5},{"s":"g","k":"c2","x":4,"y":-6},{"s":"g","k":"c2","x":6.8,"y":-6.5},
{"s":"g","k":"c3","x":-1,"y":21},{"s":"g","k":"c3","x":-0.5,"y":23},{"s":"g","k":"c3","x":0,"y":17},{"s":"g","k":"c3","x":0.5,"y":6},{"s":"g","k":"c3","x":0.9,"y":0},{"s":"g","k":"c3","x":1.3,"y":-4},{"s":"g","k":"c3","x":2,"y":-6},{"s":"g","k":"c3","x":4,"y":-7},{"s":"g","k":"c3","x":6.8,"y":-7.2},
{"s":"g","k":"c4","x":-0.5,"y":30},{"s":"g","k":"c4","x":0,"y":22},{"s":"g","k":"c4","x":0.5,"y":9},{"s":"g","k":"c4","x":0.8,"y":1},{"s":"g","k":"c4","x":1.2,"y":-5},{"s":"g","k":"c4","x":2,"y":-6.5},{"s":"g","k":"c4","x":4,"y":-7.5},{"s":"g","k":"c4","x":6.8,"y":-7.8},
{"s":"g","k":"c5","x":-0.2,"y":30},{"s":"g","k":"c5","x":0.1,"y":20},{"s":"g","k":"c5","x":0.5,"y":8},{"s":"g","k":"c5","x":0.9,"y":-1},{"s":"g","k":"c5","x":1.3,"y":-6},{"s":"g","k":"c5","x":2,"y":-7},{"s":"g","k":"c5","x":4,"y":-7.5},{"s":"g","k":"c5","x":6.8,"y":-7},
{"s":"g","k":"c6","x":-1,"y":27},{"s":"g","k":"c6","x":-0.3,"y":26},{"s":"g","k":"c6","x":0.2,"y":14},{"s":"g","k":"c6","x":0.6,"y":5},{"s":"g","k":"c6","x":0.9,"y":0},{"s":"g","k":"c6","x":1.3,"y":-3},{"s":"g","k":"c6","x":2,"y":-4},{"s":"g","k":"c6","x":4,"y":-4.5},{"s":"g","k":"c6","x":6.8,"y":-4},
{"s":"g","k":"c7","x":-1,"y":28},{"s":"g","k":"c7","x":-0.6,"y":27},{"s":"g","k":"c7","x":0,"y":19},{"s":"g","k":"c7","x":0.5,"y":7},{"s":"g","k":"c7","x":1,"y":-1},{"s":"g","k":"c7","x":1.5,"y":-5},{"s":"g","k":"c7","x":3,"y":-7},{"s":"g","k":"c7","x":5,"y":-8},{"s":"g","k":"c7","x":6.8,"y":-10.5},
{"s":"g","k":"c8","x":-1,"y":24},{"s":"g","k":"c8","x":-0.4,"y":22},{"s":"g","k":"c8","x":0.2,"y":12},{"s":"g","k":"c8","x":0.6,"y":4},{"s":"g","k":"c8","x":1,"y":-2},{"s":"g","k":"c8","x":1.5,"y":-5.5},{"s":"g","k":"c8","x":3,"y":-6.5},{"s":"g","k":"c8","x":5,"y":-7},{"s":"g","k":"c8","x":6.8,"y":-7},
{"s":"g","k":"c9","x":-0.1,"y":30},{"s":"g","k":"c9","x":0.2,"y":22},{"s":"g","k":"c9","x":0.5,"y":10},{"s":"g","k":"c9","x":0.9,"y":0},{"s":"g","k":"c9","x":1.4,"y":-6},{"s":"g","k":"c9","x":2,"y":-7.5},{"s":"g","k":"c9","x":4,"y":-8},{"s":"g","k":"c9","x":6.8,"y":-8},
{"s":"g","k":"c10","x":-1,"y":23},{"s":"g","k":"c10","x":0,"y":17},{"s":"g","k":"c10","x":0.4,"y":10},{"s":"g","k":"c10","x":0.8,"y":2},{"s":"g","k":"c10","x":1.2,"y":-2},{"s":"g","k":"c10","x":2,"y":-3.5},{"s":"g","k":"c10","x":4,"y":-4},{"s":"g","k":"c10","x":6.8,"y":-4.5},
{"s":"g","k":"d1","x":2.8,"y":30},{"s":"g","k":"d1","x":3.1,"y":22},{"s":"g","k":"d1","x":3.4,"y":16},{"s":"g","k":"d1","x":3.7,"y":14},{"s":"g","k":"d1","x":4.5,"y":13},{"s":"g","k":"d1","x":6.8,"y":13},
{"s":"g","k":"d2","x":3,"y":30},{"s":"g","k":"d2","x":3.3,"y":20},{"s":"g","k":"d2","x":3.6,"y":13},{"s":"g","k":"d2","x":4,"y":12},{"s":"g","k":"d2","x":6.8,"y":12},
{"s":"g","k":"d3","x":3.2,"y":30},{"s":"g","k":"d3","x":3.5,"y":18},{"s":"g","k":"d3","x":3.8,"y":11},{"s":"g","k":"d3","x":4.5,"y":10},{"s":"g","k":"d3","x":6.8,"y":9.5},
{"s":"g","k":"d4","x":3.6,"y":30},{"s":"g","k":"d4","x":3.65,"y":15},{"s":"g","k":"d4","x":3.8,"y":10},{"s":"g","k":"d4","x":5,"y":10},{"s":"g","k":"d4","x":6.8,"y":9.8},
{"s":"g","k":"d5","x":3.7,"y":30},{"s":"g","k":"d5","x":3.72,"y":12},{"s":"g","k":"d5","x":3.9,"y":11},{"s":"g","k":"d5","x":6.8,"y":11.5},
{"s":"g","k":"d6","x":3.8,"y":30},{"s":"g","k":"d6","x":3.8,"y":15},{"s":"g","k":"d6","x":4.2,"y":14},{"s":"g","k":"d6","x":6.8,"y":14},
{"s":"g","k":"d7","x":3.9,"y":30},{"s":"g","k":"d7","x":3.9,"y":17},{"s":"g","k":"d7","x":6,"y":17},{"s":"g","k":"d7","x":6.2,"y":15},{"s":"g","k":"d7","x":6.8,"y":14.5},
{"s":"g","k":"d8","x":3.75,"y":30},{"s":"g","k":"d8","x":3.8,"y":13.5},{"s":"g","k":"d8","x":5,"y":13},{"s":"g","k":"d8","x":6.8,"y":13}
],
"mda":[
{"s":"g","k":"e1","x":-1,"y":27},{"s":"g","k":"e1","x":-0.5,"y":25},{"s":"g","k":"e1","x":0,"y":21},{"s":"g","k":"e1","x":0.5,"y":17},{"s":"g","k":"e1","x":1,"y":14},{"s":"g","k":"e1","x":1.5,"y":15},{"s":"g","k":"e1","x":2,"y":20},{"s":"g","k":"e1","x":2.5,"y":28},{"s":"g","k":"e1","x":2.7,"y":30},
{"s":"g","k":"e2","x":-0.8,"y":30},{"s":"g","k":"e2","x":-0.3,"y":26},{"s":"g","k":"e2","x":0.2,"y":20},{"s":"g","k":"e2","x":0.8,"y":12},{"s":"g","k":"e2","x":1.2,"y":9},{"s":"g","k":"e2","x":1.6,"y":9},{"s":"g","k":"e2","x":2,"y":13},{"s":"g","k":"e2","x":2.5,"y":20},{"s":"g","k":"e2","x":2.9,"y":30},
{"s":"g","k":"e3","x":-0.5,"y":30},{"s":"g","k":"e3","x":0,"y":24},{"s":"g","k":"e3","x":0.5,"y":16},{"s":"g","k":"e3","x":1,"y":8},{"s":"g","k":"e3","x":1.4,"y":7},{"s":"g","k":"e3","x":1.8,"y":9},{"s":"g","k":"e3","x":2.2,"y":13},{"s":"g","k":"e3","x":2.6,"y":22},{"s":"g","k":"e3","x":2.8,"y":30},
{"s":"g","k":"e4","x":-0.3,"y":30},{"s":"g","k":"e4","x":0,"y":26},{"s":"g","k":"e4","x":0.4,"y":22},{"s":"g","k":"e4","x":0.8,"y":22},{"s":"g","k":"e4","x":1.2,"y":25},{"s":"g","k":"e4","x":1.6,"y":28},{"s":"g","k":"e4","x":1.8,"y":30},
{"s":"g","k":"e5","x":-0.1,"y":30},{"s":"g","k":"e5","x":0.2,"y":26},{"s":"g","k":"e5","x":0.6,"y":24},{"s":"g","k":"e5","x":1,"y":25},{"s":"g","k":"e5","x":1.5,"y":27},{"s":"g","k":"e5","x":2,"y":25},{"s":"g","k":"e5","x":2.5,"y":27},{"s":"g","k":"e5","x":2.7,"y":30},
{"s":"g","k":"e6","x":0,"y":30},{"s":"g","k":"e6","x":0.3,"y":24},{"s":"g","k":"e6","x":0.8,"y":19},{"s":"g","k":"e6","x":1.3,"y":15},{"s":"g","k":"e6","x":1.8,"y":14},{"s":"g","k":"e6","x":2.2,"y":17},{"s":"g","k":"e6","x":2.5,"y":23},{"s":"g","k":"e6","x":2.6,"y":30},
{"s":"g","k":"e7","x":-1,"y":30},{"s":"g","k":"e7","x":-0.5,"y":28},{"s":"g","k":"e7","x":0,"y":27},{"s":"g","k":"e7","x":0.5,"y":23},{"s":"g","k":"e7","x":1,"y":20},{"s":"g","k":"e7","x":1.5,"y":20},{"s":"g","k":"e7","x":2,"y":24},{"s":"g","k":"e7","x":2.3,"y":30},
{"s":"g","k":"e8","x":0.8,"y":30},{"s":"g","k":"e8","x":1,"y":26},{"s":"g","k":"e8","x":1.3,"y":24},{"s":"g","k":"e8","x":1.7,"y":27},{"s":"g","k":"e8","x":1.9,"y":30},
{"s":"g","k":"f1","x":2.5,"y":30},{"s":"g","k":"f1","x":3,"y":22},{"s":"g","k":"f1","x":3.5,"y":15},{"s":"g","k":"f1","x":4,"y":11},{"s":"g","k":"f1","x":4.5,"y":9},{"s":"g","k":"f1","x":5,"y":11},{"s":"g","k":"f1","x":5.5,"y":18},{"s":"g","k":"f1","x":6,"y":27},{"s":"g","k":"f1","x":6.2,"y":30},
{"s":"g","k":"f2","x":2.8,"y":30},{"s":"g","k":"f2","x":3.3,"y":20},{"s":"g","k":"f2","x":3.8,"y":10},{"s":"g","k":"f2","x":4.3,"y":6},{"s":"g","k":"f2","x":4.8,"y":6},{"s":"g","k":"f2","x":5.3,"y":10},{"s":"g","k":"f2","x":5.8,"y":20},{"s":"g","k":"f2","x":6.2,"y":30},
{"s":"g","k":"f3","x":3,"y":30},{"s":"g","k":"f3","x":3.5,"y":12},{"s":"g","k":"f3","x":4,"y":2},{"s":"g","k":"f3","x":4.5,"y":-3},{"s":"g","k":"f3","x":5,"y":-1},{"s":"g","k":"f3","x":5.5,"y":5},{"s":"g","k":"f3","x":6,"y":15},{"s":"g","k":"f3","x":6.5,"y":28},
{"s":"g","k":"f4","x":3.5,"y":30},{"s":"g","k":"f4","x":4,"y":24},{"s":"g","k":"f4","x":4.5,"y":19},{"s":"g","k":"f4","x":5,"y":20},{"s":"g","k":"f4","x":5.3,"y":30},
{"s":"g","k":"f5","x":4.2,"y":30},{"s":"g","k":"f5","x":4.5,"y":25},{"s":"g","k":"f5","x":5,"y":28},{"s":"g","k":"f5","x":5.1,"y":30},
{"s":"g","k":"f6","x":3.3,"y":30},{"s":"g","k":"f6","x":3.5,"y":10},{"s":"g","k":"f6","x":3.75,"y":-10},{"s":"g","k":"f6","x":4,"y":-30},
{"s":"g","k":"f7","x":3.5,"y":25},{"s":"g","k":"f7","x":3.8,"y":0},{"s":"g","k":"f7","x":4.05,"y":-15},{"s":"g","k":"f7","x":4.15,"y":-30},
{"s":"g","k":"f8","x":4.5,"y":30},{"s":"g","k":"f8","x":4.75,"y":10},{"s":"g","k":"f8","x":4.9,"y":-10},{"s":"g","k":"f8","x":4.94,"y":-30},
{"s":"g","k":"f9","x":5.2,"y":30},{"s":"g","k":"f9","x":5.3,"y":10},{"s":"g","k":"f9","x":5.45,"y":-10},{"s":"g","k":"f9","x":5.55,"y":-30},
{"s":"g","k":"f10","x":5.9,"y":30},{"s":"g","k":"f10","x":6,"y":10},{"s":"g","k":"f10","x":6.03,"y":-10},{"s":"g","k":"f10","x":6.06,"y":-30},
{"s":"g","k":"f11","x":6,"y":30},{"s":"g","k":"f11","x":6.2,"y":20},{"s":"g","k":"f11","x":6.4,"y":10},{"s":"g","k":"f11","x":6.5,"y":5},
{"s":"g","k":"f12","x":5.4,"y":25},{"s":"g","k":"f12","x":5.5,"y":5},{"s":"g","k":"f12","x":5.6,"y":-10},{"s":"g","k":"f12","x":5.65,"y":-30}
],
"cta":[
{"s":"g","k":"c1","x":-1,"y":15},{"s":"g","k":"c1","x":-0.5,"y":13},{"s":"g","k":"c1","x":0,"y":10},{"s":"g","k":"c1","x":0.5,"y":5},{"s":"g","k":"c1","x":1,"y":-1},{"s":"g","k":"c1","x":1.5,"y":-3},{"s":"g","k":"c1","x":3,"y":-4},{"s":"g","k":"c1","x":5,"y":-4},{"s":"g","k":"c1","x":6.8,"y":-4},
{"s":"g","k":"c2","x":-1,"y":21},{"s":"g","k":"c2","x":-0.5,"y":20},{"s":"g","k":"c2","x":0,"y":16},{"s":"g","k":"c2","x":0.5,"y":8},{"s":"g","k":"c2","x":1,"y":0},{"s":"g","k":"c2","x":1.5,"y":-4},{"s":"g","k":"c2","x":3,"y":-6},{"s":"g","k":"c2","x":5,"y":-7},{"s":"g","k":"c2","x":6.8,"y":-7},
{"s":"g","k":"c3","x":-1,"y":14},{"s":"g","k":"c3","x":-0.5,"y":12},{"s":"g","k":"c3","x":0,"y":9},{"s":"g","k":"c3","x":0.5,"y":4},{"s":"g","k":"c3","x":1,"y":-2},{"s":"g","k":"c3","x":1.5,"y":-5},{"s":"g","k":"c3","x":3,"y":-7},{"s":"g","k":"c3","x":5,"y":-7.5},{"s":"g","k":"c3","x":6.8,"y":-7.5},
{"s":"g","k":"c4","x":-1,"y":30},{"s":"g","k":"c4","x":-0.5,"y":25},{"s":"g","k":"c4","x":0,"y":18},{"s":"g","k":"c4","x":0.5,"y":7},{"s":"g","k":"c4","x":1,"y":0},{"s":"g","k":"c4","x":2,"y":-4},{"s":"g","k":"c4","x":4,"y":-5},{"s":"g","k":"c4","x":6.8,"y":-5},
{"s":"g","k":"c5","x":-1,"y":18},{"s":"g","k":"c5","x":-0.5,"y":17},{"s":"g","k":"c5","x":0,"y":12},{"s":"g","k":"c5","x":0.5,"y":5},{"s":"g","k":"c5","x":1,"y":-2},{"s":"g","k":"c5","x":2,"y":-6},{"s":"g","k":"c5","x":4,"y":-7},{"s":"g","k":"c5","x":6.8,"y":-7},
{"s":"g","k":"c6","x":-0.3,"y":30},{"s":"g","k":"c6","x":0.2,"y":22},{"s":"g","k":"c6","x":0.5,"y":10},{"s":"g","k":"c6","x":0.8,"y":3},{"s":"g","k":"c6","x":1.2,"y":-3},{"s":"g","k":"c6","x":2,"y":-6},{"s":"g","k":"c6","x":4,"y":-7},{"s":"g","k":"c6","x":6.8,"y":-7},
{"s":"g","k":"c7","x":0.3,"y":30},{"s":"g","k":"c7","x":0.5,"y":20},{"s":"g","k":"c7","x":0.7,"y":10},{"s":"g","k":"c7","x":0.9,"y":2},{"s":"g","k":"c7","x":1.3,"y":-3},{"s":"g","k":"c7","x":2.5,"y":-6},{"s":"g","k":"c7","x":5,"y":-7},{"s":"g","k":"c7","x":6.8,"y":-7},
{"s":"g","k":"c8","x":0.45,"y":30},{"s":"g","k":"c8","x":0.55,"y":20},{"s":"g","k":"c8","x":0.75,"y":8},{"s":"g","k":"c8","x":1,"y":2},{"s":"g","k":"c8","x":1.5,"y":2.5},{"s":"g","k":"c8","x":2.5,"y":3},{"s":"g","k":"c8","x":4,"y":3},{"s":"g","k":"c8","x":5,"y":2.5},{"s":"g","k":"c8","x":6.8,"y":2.5},
{"s":"g","k":"c9","x":-1,"y":13},{"s":"g","k":"c9","x":0,"y":8},{"s":"g","k":"c9","x":0.6,"y":3},{"s":"g","k":"c9","x":1,"y":0},{"s":"g","k":"c9","x":2,"y":-2},{"s":"g","k":"c9","x":4,"y":-3},{"s":"g","k":"c9","x":6.8,"y":-3.5},
{"s":"g","k":"c10","x":0.5,"y":30},{"s":"g","k":"c10","x":0.55,"y":25},{"s":"g","k":"c10","x":0.65,"y":15},{"s":"g","k":"c10","x":0.8,"y":6},{"s":"g","k":"c10","x":1.2,"y":-1},{"s":"g","k":"c10","x":2,"y":-5},{"s":"g","k":"c10","x":4,"y":-6},{"s":"g","k":"c10","x":6.8,"y":-6},
{"s":"g","k":"c11","x":-1,"y":20},{"s":"g","k":"c11","x":-0.5,"y":21},{"s":"g","k":"c11","x":0,"y":19},{"s":"g","k":"c11","x":0.4,"y":14},{"s":"g","k":"c11","x":0.7,"y":6},{"s":"g","k":"c11","x":1,"y":1},{"s":"g","k":"c11","x":1.5,"y":-2},{"s":"g","k":"c11","x":3,"y":-3},{"s":"g","k":"c11","x":6.8,"y":-3},
{"s":"g","k":"d1","x":3.3,"y":30},{"s":"g","k":"d1","x":3.35,"y":20},{"s":"g","k":"d1","x":3.5,"y":15},{"s":"g","k":"d1","x":4,"y":14},{"s":"g","k":"d1","x":4.5,"y":14},{"s":"g","k":"d1","x":5,"y":12},{"s":"g","k":"d1","x":6.8,"y":12},
{"s":"g","k":"d2","x":3.4,"y":30},{"s":"g","k":"d2","x":3.45,"y":20},{"s":"g","k":"d2","x":3.6,"y":17},{"s":"g","k":"d2","x":4.5,"y":17},{"s":"g","k":"d2","x":5.5,"y":17},{"s":"g","k":"d2","x":6.8,"y":17},
{"s":"g","k":"d3","x":3.5,"y":30},{"s":"g","k":"d3","x":3.6,"y":24},{"s":"g","k":"d3","x":4,"y":23},{"s":"g","k":"d3","x":5,"y":23},{"s":"g","k":"d3","x":6.8,"y":23},
{"s":"g","k":"d4","x":3.9,"y":30},{"s":"g","k":"d4","x":3.95,"y":16},{"s":"g","k":"d4","x":4.3,"y":14},{"s":"g","k":"d4","x":4.8,"y":13},{"s":"g","k":"d4","x":5.5,"y":11.5},{"s":"g","k":"d4","x":6.8,"y":11.5},
{"s":"g","k":"d5","x":4.2,"y":30},{"s":"g","k":"d5","x":4.25,"y":20},{"s":"g","k":"d5","x":4.6,"y":16},{"s":"g","k":"d5","x":5,"y":12},{"s":"g","k":"d5","x":6.8,"y":11.5},
{"s":"g","k":"d6","x":4.1,"y":30},{"s":"g","k":"d6","x":4.15,"y":18},{"s":"g","k":"d6","x":4.8,"y":14},{"s":"g","k":"d6","x":5.4,"y":12},{"s":"g","k":"d6","x":6.8,"y":12},
{"s":"Bm","k":"Bm","x":0.31,"y":30},{"s":"Bm","k":"Bm","x":0.42,"y":19.2},{"s":"Bm","k":"Bm","x":0.63,"y":10.3},{"s":"Bm","k":"Bm","x":0.69,"y":4},{"s":"Bm","k":"Bm","x":1.01,"y":-2.4},{"s":"Bm","k":"Bm","x":1.33,"y":-11.2},{"s":"Bm","k":"Bm","x":1.6,"y":-21.4},{"s":"Bm","k":"Bm","x":1.92,"y":-30},
{"s":"B","k":"B","x":4.34,"y":30},{"s":"B","k":"B","x":4.34,"y":-12.5},{"s":"B","k":"B","x":4.39,"y":-13.8},{"s":"B","k":"B","x":4.77,"y":-13.8},{"s":"B","k":"B","x":4.99,"y":-14.4},{"s":"B","k":"B","x":5.1,"y":-18.9},{"s":"B","k":"B","x":5.31,"y":-20.8},{"s":"B","k":"B","x":5.74,"y":-21.2},{"s":"B","k":"B","x":5.85,"y":-24},{"s":"B","k":"B","x":5.96,"y":-27.1},{"s":"B","k":"B","x":6.06,"y":-28.4},{"s":"B","k":"B","x":6.15,"y":-30}
],
"glm":[
{"s":"g","k":"l1","x":-1,"y":28},{"s":"g","k":"l1","x":-0.5,"y":22},{"s":"g","k":"l1","x":0,"y":12},{"s":"g","k":"l1","x":0.5,"y":5},{"s":"g","k":"l1","x":1,"y":-1},{"s":"g","k":"l1","x":2,"y":-11},{"s":"g","k":"l1","x":3,"y":-21},{"s":"g","k":"l1","x":3.8,"y":-30},
{"s":"g","k":"l2","x":-1,"y":22},{"s":"g","k":"l2","x":-0.5,"y":16},{"s":"g","k":"l2","x":0,"y":10},{"s":"g","k":"l2","x":0.5,"y":4},{"s":"g","k":"l2","x":1,"y":-1.5},{"s":"g","k":"l2","x":2,"y":-12},{"s":"g","k":"l2","x":3,"y":-22},{"s":"g","k":"l2","x":3.7,"y":-30},
{"s":"g","k":"l3","x":-0.8,"y":30},{"s":"g","k":"l3","x":-0.3,"y":20},{"s":"g","k":"l3","x":0,"y":13},{"s":"g","k":"l3","x":0.5,"y":6},{"s":"g","k":"l3","x":1,"y":0},{"s":"g","k":"l3","x":2,"y":-10},{"s":"g","k":"l3","x":3,"y":-20},{"s":"g","k":"l3","x":3.9,"y":-30},
{"s":"g","k":"l4","x":-1,"y":16},{"s":"g","k":"l4","x":-0.6,"y":18},{"s":"g","k":"l4","x":-0.2,"y":12},{"s":"g","k":"l4","x":0.3,"y":7},{"s":"g","k":"l4","x":1,"y":-2},{"s":"g","k":"l4","x":2,"y":-12.5},{"s":"g","k":"l4","x":3,"y":-23},{"s":"g","k":"l4","x":3.6,"y":-30},
{"s":"g","k":"l5","x":-0.3,"y":30},{"s":"g","k":"l5","x":-0.1,"y":22},{"s":"g","k":"l5","x":0.1,"y":14},{"s":"g","k":"l5","x":0.5,"y":5},{"s":"g","k":"l5","x":1,"y":-0.5},{"s":"g","k":"l5","x":2,"y":-9.5},{"s":"g","k":"l5","x":3,"y":-19},{"s":"g","k":"l5","x":4,"y":-30},
{"s":"g","k":"l6","x":0,"y":30},{"s":"g","k":"l6","x":0.05,"y":20},{"s":"g","k":"l6","x":0.2,"y":12},{"s":"g","k":"l6","x":0.6,"y":5},{"s":"g","k":"l6","x":1,"y":0.5},{"s":"g","k":"l6","x":2,"y":-9},{"s":"g","k":"l6","x":3,"y":-18.5},{"s":"g","k":"l6","x":4.05,"y":-30},
{"s":"g","k":"l7","x":-1,"y":25},{"s":"g","k":"l7","x":-0.4,"y":19},{"s":"g","k":"l7","x":0,"y":11},{"s":"g","k":"l7","x":0.5,"y":4.5},{"s":"g","k":"l7","x":1,"y":-2.5},{"s":"g","k":"l7","x":2,"y":-13},{"s":"g","k":"l7","x":3,"y":-24},{"s":"g","k":"l7","x":3.5,"y":-30},
{"s":"g","k":"l8","x":-0.6,"y":30},{"s":"g","k":"l8","x":-0.2,"y":21},{"s":"g","k":"l8","x":0.1,"y":11},{"s":"g","k":"l8","x":0.6,"y":4},{"s":"g","k":"l8","x":1,"y":-1},{"s":"g","k":"l8","x":2,"y":-10.5},{"s":"g","k":"l8","x":3,"y":-21},{"s":"g","k":"l8","x":3.8,"y":-30},
{"s":"g","k":"r1","x":3.6,"y":30},{"s":"g","k":"r1","x":3.6,"y":20},{"s":"g","k":"r1","x":3.7,"y":12},{"s":"g","k":"r1","x":4,"y":5},{"s":"g","k":"r1","x":4.2,"y":0},{"s":"g","k":"r1","x":4.6,"y":-4},{"s":"g","k":"r1","x":5.2,"y":-10},{"s":"g","k":"r1","x":5.8,"y":-16},{"s":"g","k":"r1","x":6.4,"y":-23},{"s":"g","k":"r1","x":6.8,"y":-27},
{"s":"g","k":"r2","x":4,"y":30},{"s":"g","k":"r2","x":4.1,"y":20},{"s":"g","k":"r2","x":3.8,"y":10},{"s":"g","k":"r2","x":4,"y":3},{"s":"g","k":"r2","x":4.3,"y":0},{"s":"g","k":"r2","x":4.8,"y":-5},{"s":"g","k":"r2","x":5.4,"y":-11},{"s":"g","k":"r2","x":6,"y":-17},{"s":"g","k":"r2","x":6.5,"y":-22},{"s":"g","k":"r2","x":6.8,"y":-25},
{"s":"g","k":"r3","x":4.5,"y":30},{"s":"g","k":"r3","x":4.6,"y":22},{"s":"g","k":"r3","x":4.4,"y":14},{"s":"g","k":"r3","x":4.2,"y":6},{"s":"g","k":"r3","x":4.2,"y":0},{"s":"g","k":"r3","x":4.7,"y":-6},{"s":"g","k":"r3","x":5.2,"y":-12},{"s":"g","k":"r3","x":5.8,"y":-18},{"s":"g","k":"r3","x":6.4,"y":-25},{"s":"g","k":"r3","x":6.6,"y":-30},
{"s":"g","k":"r4","x":5,"y":30},{"s":"g","k":"r4","x":5,"y":20},{"s":"g","k":"r4","x":4.8,"y":12},{"s":"g","k":"r4","x":4.5,"y":4},{"s":"g","k":"r4","x":4.3,"y":0},{"s":"g","k":"r4","x":4.8,"y":-4},{"s":"g","k":"r4","x":5.5,"y":-9},{"s":"g","k":"r4","x":6.1,"y":-14},{"s":"g","k":"r4","x":6.8,"y":-21},
{"s":"g","k":"r5","x":5.5,"y":30},{"s":"g","k":"r5","x":5.6,"y":22},{"s":"g","k":"r5","x":5.4,"y":14},{"s":"g","k":"r5","x":5,"y":6},{"s":"g","k":"r5","x":4.4,"y":0},{"s":"g","k":"r5","x":5,"y":-6},{"s":"g","k":"r5","x":5.6,"y":-12},{"s":"g","k":"r5","x":6.2,"y":-18},{"s":"g","k":"r5","x":6.8,"y":-24},
{"s":"g","k":"r6","x":3.5,"y":10},{"s":"g","k":"r6","x":4,"y":10},{"s":"g","k":"r6","x":4.5,"y":10},{"s":"g","k":"r6","x":5,"y":12},{"s":"g","k":"r6","x":5.5,"y":15},{"s":"g","k":"r6","x":5.8,"y":20},
{"s":"g","k":"r7","x":3.4,"y":5},{"s":"g","k":"r7","x":3.8,"y":2},{"s":"g","k":"r7","x":4.2,"y":0},{"s":"g","k":"r7","x":4.9,"y":-2},{"s":"g","k":"r7","x":5.6,"y":-7},{"s":"g","k":"r7","x":6.3,"y":-13},{"s":"g","k":"r7","x":6.8,"y":-18},
{"s":"g","k":"r8","x":4.7,"y":30},{"s":"g","k":"r8","x":4.8,"y":24},{"s":"g","k":"r8","x":5.2,"y":20},{"s":"g","k":"r8","x":5.4,"y":12},{"s":"g","k":"r8","x":5,"y":4},{"s":"g","k":"r8","x":4.5,"y":0},{"s":"g","k":"r8","x":5.1,"y":-7},{"s":"g","k":"r8","x":5.7,"y":-13},{"s":"g","k":"r8","x":6.3,"y":-19},{"s":"g","k":"r8","x":6.8,"y":-23},
{"s":"Gt","k":"t1","x":0.1,"y":30},{"s":"Gt","k":"t1","x":0.26,"y":16.5},{"s":"Gt","k":"t1","x":0.58,"y":8},{"s":"Gt","k":"t1","x":1.01,"y":1.6},{"s":"Gt","k":"t1","x":1.98,"y":-8.5},{"s":"Gt","k":"t1","x":2.84,"y":-17.5},{"s":"Gt","k":"t1","x":3.59,"y":-25},{"s":"Gt","k":"t1","x":4.18,"y":-30},
{"s":"Gt","k":"t2","x":-1,"y":14.5},{"s":"Gt","k":"t2","x":-0.5,"y":14.5},{"s":"Gt","k":"t2","x":-0.23,"y":9.5},{"s":"Gt","k":"t2","x":0.15,"y":7.5},{"s":"Gt","k":"t2","x":0.69,"y":3},{"s":"Gt","k":"t2","x":1.23,"y":-2},{"s":"Gt","k":"t2","x":1.98,"y":-11},{"s":"Gt","k":"t2","x":2.84,"y":-20},{"s":"Gt","k":"t2","x":3.48,"y":-30},
{"s":"Bt","k":"b1","x":3.54,"y":30},{"s":"Bt","k":"b1","x":3.38,"y":20.5},{"s":"Bt","k":"b1","x":3.32,"y":10.3},{"s":"Bt","k":"b1","x":3.59,"y":1.9},{"s":"Bt","k":"b1","x":3.97,"y":0},{"s":"Bt","k":"b1","x":4.34,"y":-3.2},{"s":"Bt","k":"b1","x":4.67,"y":-8.2},{"s":"Bt","k":"b1","x":5.1,"y":-11.9},{"s":"Bt","k":"b1","x":5.53,"y":-15.8},{"s":"Bt","k":"b1","x":5.96,"y":-20},{"s":"Bt","k":"b1","x":6.28,"y":-23.8},{"s":"Bt","k":"b1","x":6.5,"y":-30},
{"s":"Bt","k":"b2","x":5.96,"y":30},{"s":"Bt","k":"b2","x":5.85,"y":20.5},{"s":"Bt","k":"b2","x":5.74,"y":10.3},{"s":"Bt","k":"b2","x":5.31,"y":1.9},{"s":"Bt","k":"b2","x":4.99,"y":-1.9},{"s":"Bt","k":"b2","x":5.53,"y":-7.3},{"s":"Bt","k":"b2","x":6.17,"y":-12.3},{"s":"Bt","k":"b2","x":6.6,"y":-16.3},{"s":"Bt","k":"b2","x":6.82,"y":-19},
{"s":"G","k":"G","x":-0.44,"y":30},{"s":"G","k":"G","x":-0.17,"y":20.5},{"s":"G","k":"G","x":0.04,"y":10.3},{"s":"G","k":"G","x":0.26,"y":7.2},{"s":"G","k":"G","x":0.69,"y":2.8},{"s":"G","k":"G","x":1,"y":-1},{"s":"G","k":"G","x":1.5,"y":-6},{"s":"G","k":"G","x":2,"y":-11},{"s":"G","k":"G","x":2.5,"y":-16},{"s":"G","k":"G","x":3,"y":-21},{"s":"G","k":"G","x":3.65,"y":-30},
{"s":"B","k":"B","x":5.26,"y":30},{"s":"B","k":"B","x":5.42,"y":23},{"s":"B","k":"B","x":5.53,"y":15.4},{"s":"B","k":"B","x":5.31,"y":9.1},{"s":"B","k":"B","x":4.88,"y":4.6},{"s":"B","k":"B","x":4.45,"y":0.2},{"s":"B","k":"B","x":4.67,"y":-2.3},{"s":"B","k":"B","x":5.1,"y":-7.3},{"s":"B","k":"B","x":5.53,"y":-10.9},{"s":"B","k":"B","x":5.96,"y":-14.8},{"s":"B","k":"B","x":6.28,"y":-20},{"s":"B","k":"B","x":6.6,"y":-25},{"s":"B","k":"B","x":6.82,"y":-27}
],
"rf":[
{"s":"g","k":"r1","x":-1,"y":13},{"s":"g","k":"r1","x":-0.5,"y":8},{"s":"g","k":"r1","x":0,"y":5},{"s":"g","k":"r1","x":0.5,"y":0},{"s":"g","k":"r1","x":1,"y":-4},{"s":"g","k":"r1","x":2,"y":-6},{"s":"g","k":"r1","x":3,"y":-7},{"s":"g","k":"r1","x":4,"y":-7},{"s":"g","k":"r1","x":6.5,"y":-7},
{"s":"g","k":"r2","x":-1,"y":7},{"s":"g","k":"r2","x":-0.5,"y":6},{"s":"g","k":"r2","x":0,"y":4},{"s":"g","k":"r2","x":0.5,"y":-1},{"s":"g","k":"r2","x":1,"y":-5},{"s":"g","k":"r2","x":2,"y":-8},{"s":"g","k":"r2","x":3,"y":-8.5},{"s":"g","k":"r2","x":5,"y":-9},{"s":"g","k":"r2","x":6.5,"y":-9},
{"s":"g","k":"r3","x":-1,"y":5},{"s":"g","k":"r3","x":-0.5,"y":5},{"s":"g","k":"r3","x":0,"y":3.5},{"s":"g","k":"r3","x":0.5,"y":-1.5},{"s":"g","k":"r3","x":1,"y":-6},{"s":"g","k":"r3","x":2,"y":-9},{"s":"g","k":"r3","x":4,"y":-9.5},{"s":"g","k":"r3","x":6.5,"y":-9.5},
{"s":"g","k":"r4","x":-1,"y":9},{"s":"g","k":"r4","x":-0.5,"y":7},{"s":"g","k":"r4","x":0,"y":4.5},{"s":"g","k":"r4","x":0.5,"y":-0.5},{"s":"g","k":"r4","x":1,"y":-3.5},{"s":"g","k":"r4","x":2,"y":-5},{"s":"g","k":"r4","x":4,"y":-5.5},{"s":"g","k":"r4","x":6.5,"y":-5.5},
{"s":"g","k":"r5","x":-1,"y":10},{"s":"g","k":"r5","x":-0.5,"y":7.5},{"s":"g","k":"r5","x":0,"y":4},{"s":"g","k":"r5","x":0.5,"y":-1},{"s":"g","k":"r5","x":1,"y":-4.5},{"s":"g","k":"r5","x":2,"y":-7},{"s":"g","k":"r5","x":4,"y":-8},{"s":"g","k":"r5","x":6.5,"y":-8},
{"s":"g","k":"r6","x":-1,"y":6},{"s":"g","k":"r6","x":0,"y":4},{"s":"g","k":"r6","x":0.5,"y":-1},{"s":"g","k":"r6","x":1.2,"y":-8},{"s":"g","k":"r6","x":1.8,"y":-16},{"s":"g","k":"r6","x":2.4,"y":-28},{"s":"g","k":"r6","x":2.5,"y":-30},
{"s":"g","k":"r7","x":1.5,"y":-7},{"s":"g","k":"r7","x":3,"y":-14},{"s":"g","k":"r7","x":3.5,"y":-16},{"s":"g","k":"r7","x":4,"y":-17},{"s":"g","k":"r7","x":5,"y":-17},{"s":"g","k":"r7","x":6,"y":-15},{"s":"g","k":"r7","x":6.5,"y":-14},
{"s":"g","k":"r8","x":2.9,"y":30},{"s":"g","k":"r8","x":3,"y":23},{"s":"g","k":"r8","x":3.3,"y":21},{"s":"g","k":"r8","x":3.5,"y":26},{"s":"g","k":"r8","x":3.6,"y":30},
{"s":"g","k":"r9","x":3.75,"y":30},{"s":"g","k":"r9","x":3.8,"y":12},{"s":"g","k":"r9","x":4,"y":10},{"s":"g","k":"r9","x":5,"y":10},{"s":"g","k":"r9","x":6.5,"y":10},
{"s":"g","k":"r10","x":3.85,"y":30},{"s":"g","k":"r10","x":3.9,"y":15},{"s":"g","k":"r10","x":4.2,"y":14},{"s":"g","k":"r10","x":5,"y":14},{"s":"g","k":"r10","x":6.5,"y":14},
{"s":"g","k":"r11","x":3.9,"y":30},{"s":"g","k":"r11","x":3.95,"y":13},{"s":"g","k":"r11","x":4.5,"y":13},{"s":"g","k":"r11","x":6.5,"y":13},
{"s":"g","k":"r12","x":3.8,"y":30},{"s":"g","k":"r12","x":3.85,"y":10},{"s":"g","k":"r12","x":4.2,"y":9},{"s":"g","k":"r12","x":6.5,"y":9},
{"s":"g","k":"r13","x":-1,"y":6.5},{"s":"g","k":"r13","x":-0.5,"y":5.5},{"s":"g","k":"r13","x":0,"y":4},{"s":"g","k":"r13","x":0.5,"y":0},{"s":"g","k":"r13","x":1,"y":-3},{"s":"g","k":"r13","x":2,"y":-4},{"s":"g","k":"r13","x":4,"y":-4.5},{"s":"g","k":"r13","x":6.5,"y":-4.5},
{"s":"Gt","k":"t1","x":1.5,"y":-12},{"s":"Gt","k":"t1","x":1.87,"y":-18.7},{"s":"Gt","k":"t1","x":2.19,"y":-21.2},{"s":"Gt","k":"t1","x":2.41,"y":-23},{"s":"Gt","k":"t1","x":2.57,"y":-25.6},{"s":"Gt","k":"t1","x":2.62,"y":-30},
{"s":"Gt","k":"t2","x":1.5,"y":-12},{"s":"Gt","k":"t2","x":1.75,"y":-17},{"s":"Gt","k":"t2","x":1.9,"y":-22},{"s":"Gt","k":"t2","x":1.98,"y":-30},
{"s":"Bt","k":"b1","x":3.1,"y":30},{"s":"Bt","k":"b1","x":3,"y":20},{"s":"Bt","k":"b1","x":2.97,"y":12},{"s":"Bt","k":"b1","x":2.95,"y":5},{"s":"Bt","k":"b1","x":3.3,"y":2.4},{"s":"Bt","k":"b1","x":3.7,"y":3},{"s":"Bt","k":"b1","x":4,"y":1},{"s":"Bt","k":"b1","x":4.2,"y":-3},{"s":"Bt","k":"b1","x":4.5,"y":-7},{"s":"Bt","k":"b1","x":4.7,"y":-11},{"s":"Bt","k":"b1","x":4.9,"y":-16},{"s":"Bt","k":"b1","x":5.1,"y":-20},{"s":"Bt","k":"b1","x":5.4,"y":-23},{"s":"Bt","k":"b1","x":5.8,"y":-26},{"s":"Bt","k":"b1","x":6,"y":-30},
{"s":"Bt","k":"b2","x":3.27,"y":5},{"s":"Bt","k":"b2","x":3.4,"y":0},{"s":"Bt","k":"b2","x":3.6,"y":-6},{"s":"Bt","k":"b2","x":4,"y":-10.5},{"s":"Bt","k":"b2","x":4.4,"y":-12},{"s":"Bt","k":"b2","x":4.7,"y":-14},{"s":"Bt","k":"b2","x":4.9,"y":-17},{"s":"Bt","k":"b2","x":5.2,"y":-21},{"s":"Bt","k":"b2","x":5.6,"y":-25},{"s":"Bt","k":"b2","x":5.9,"y":-28},{"s":"Bt","k":"b2","x":6,"y":-30},
{"s":"Bt","k":"e1","x":3.3,"y":12},{"s":"Bt","k":"e1","x":3.38,"y":10},{"s":"Bt","k":"e1","x":3.3,"y":8},{"s":"Bt","k":"e1","x":3.22,"y":10},{"s":"Bt","k":"e1","x":3.3,"y":12},
{"s":"Bt","k":"e2","x":5.6,"y":-8},{"s":"Bt","k":"e2","x":5.68,"y":-10},{"s":"Bt","k":"e2","x":5.6,"y":-12},{"s":"Bt","k":"e2","x":5.52,"y":-10},{"s":"Bt","k":"e2","x":5.6,"y":-8},
{"s":"G","k":"G","x":-1,"y":8.7},{"s":"G","k":"G","x":-0.49,"y":6.6},{"s":"G","k":"G","x":-0.17,"y":5.5},{"s":"G","k":"G","x":0.15,"y":3},{"s":"G","k":"G","x":0.47,"y":-0.8},{"s":"G","k":"G","x":0.8,"y":-4},{"s":"G","k":"G","x":1.12,"y":-7.2},{"s":"G","k":"G","x":1.44,"y":-11},{"s":"G","k":"G","x":1.76,"y":-16.1},{"s":"G","k":"G","x":2.09,"y":-21.2},{"s":"G","k":"G","x":2.41,"y":-26.3},{"s":"G","k":"G","x":2.52,"y":-30},
{"s":"B","k":"B","x":3.75,"y":30},{"s":"B","k":"B","x":3.81,"y":20.8},{"s":"B","k":"B","x":3.86,"y":10.6},{"s":"B","k":"B","x":3.97,"y":5.5},{"s":"B","k":"B","x":4.13,"y":-0.6},{"s":"B","k":"B","x":4.45,"y":-5.7},{"s":"B","k":"B","x":4.67,"y":-11},{"s":"B","k":"B","x":4.88,"y":-16.1},{"s":"B","k":"B","x":5.1,"y":-20},{"s":"B","k":"B","x":5.42,"y":-23.8},{"s":"B","k":"B","x":5.74,"y":-26.3},{"s":"B","k":"B","x":5.96,"y":-30}
]
}
}
